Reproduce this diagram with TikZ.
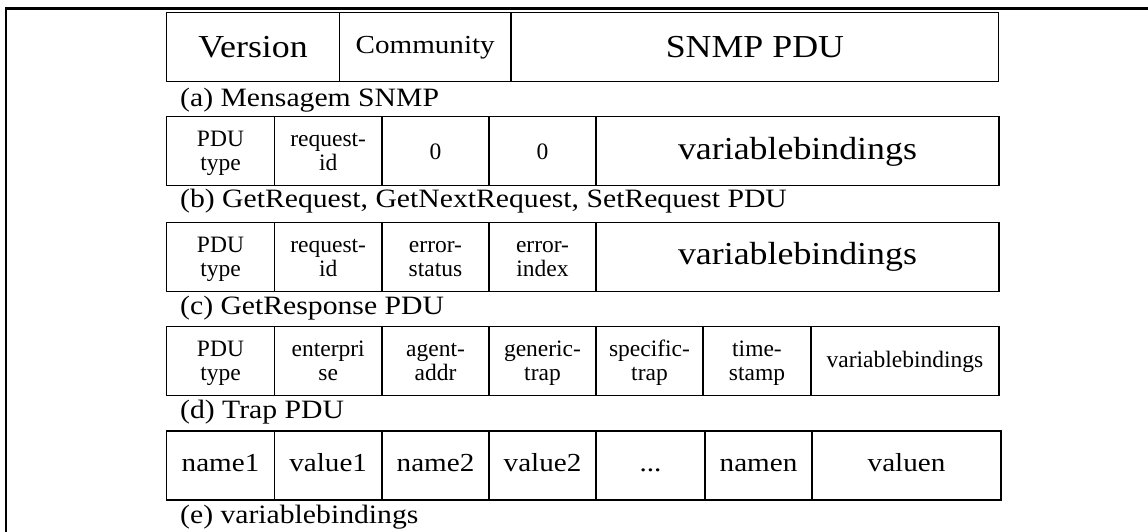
\documentclass[tikz,border=0pt]{standalone}
\usepackage{fontspec}
\setmainfont[FakeStretch=1.12]{Liberation Serif}
\newfontfamily\cellfont{Liberation Serif}
\usetikzlibrary{positioning}
\tikzset{
    cell/.style = {rectangle, draw=black, line width=1.1pt, inner sep=0pt, minimum height=69pt, align=center},
    big/.style = {font=\fontsize{32}{34}\selectfont},
    mid/.style = {font=\fontsize{26}{28}\selectfont},
    pair/.style = {font=\fontsize{26}{28}\selectfont, text height=18pt, text depth=6pt},
    small/.style = {font=\cellfont\fontsize{23.5}{24}\selectfont},
    twoline/.style = {small, text height=39pt, text depth=0pt},
    caption/.style = {anchor=base west, inner sep=0pt, font=\fontsize{26.5}{28}\selectfont},
    frame/.style = {line width=2.5pt, draw=black}
}

\begin{document}
\begin{tikzpicture}[x=1pt,y=-1pt]
\useasboundingbox (0,0) rectangle (1148,532);
\draw[frame] (6,532) -- (6,8.5) -- (1148,8.5);
% (a) mensagem
\node[cell,big, minimum width=173pt] at (253.0, 47.2) (ver) {Version};
\node[cell,mid, minimum width=171.6pt] at (425.2, 47.2) (com) {Community};
\node[cell,big, minimum width=487.7pt] at (754.9, 47.2) (pdu) {SNMP PDU};
\node[caption] at (180, 106.7) (capa) {(a) Mensagem SNMP};
% (b) request
\node[cell,twoline, minimum width=108pt] at (220.5, 151.4) (btype) {PDU\\type};
\node[cell,twoline, minimum width=107.5pt] at (328.2, 151.4) (bid) {request-\\id};
\node[cell,small, minimum width=107pt] at (435.5, 151.4) (bstat) {0};
\node[cell,small, minimum width=107pt] at (542.5, 151.4) (bidx) {0};
\node[cell,big, minimum width=403pt] at (797.5, 151.4) (bvar) {variablebindings};
\node[caption] at (180, 207.5) (capb) {(b) GetRequest, GetNextRequest, SetRequest PDU};
% (c) response
\node[cell,twoline, minimum width=108pt] at (220.5, 257.2) (ctype) {PDU\\type};
\node[cell,twoline, minimum width=107.5pt] at (328.2, 257.2) (cid) {request-\\id};
\node[cell,twoline, minimum width=107pt] at (435.5, 257.2) (cstat) {error-\\status};
\node[cell,twoline, minimum width=107pt] at (542.5, 257.2) (cidx) {error-\\index};
\node[cell,big, minimum width=403pt] at (797.5, 257.2) (cvar) {variablebindings};
\node[caption] at (180, 314.5) (capc) {(c) GetResponse PDU};
% (d) trap
\node[cell,twoline, minimum width=108pt] at (220.5, 361.4) (dtype) {PDU\\type};
\node[cell,twoline, minimum width=107.5pt] at (328.2, 361.4) (dent) {enterpri\\se};
\node[cell,twoline, minimum width=107pt] at (435.5, 361.4) (daddr) {agent-\\addr};
\node[cell,twoline, minimum width=107pt] at (542.5, 361.4) (dgen) {generic-\\trap};
\node[cell,twoline, minimum width=107pt] at (649.5, 361.4) (dspec) {specific-\\trap};
\node[cell,twoline, minimum width=108pt] at (757.0, 361.4) (dtime) {time-\\stamp};
\node[cell,small, minimum width=188pt] at (905.0, 361.4) (dvar) {variablebindings};
\node[caption] at (180, 418.5) (capd) {(d) Trap PDU};
% (e) variablebindings
\node[cell,pair, minimum width=108pt] at (220.5, 465.5) (ename1) {name1};
\node[cell,pair, minimum width=107.5pt] at (328.2, 465.5) (eval1) {value1};
\node[cell,pair, minimum width=107pt] at (435.5, 465.5) (ename2) {name2};
\node[cell,pair, minimum width=107pt] at (542.5, 465.5) (eval2) {value2};
\node[cell,pair, minimum width=109pt] at (650.5, 465.5) (edots) {...};
\node[cell,pair, minimum width=107pt] at (758.5, 465.5) (enamen) {namen};
\node[cell,pair, minimum width=189pt] at (906.5, 465.5) (evaln) {valuen};
\node[caption] at (180, 523.5) (cape) {(e) variablebindings};
\end{tikzpicture}
\end{document}
